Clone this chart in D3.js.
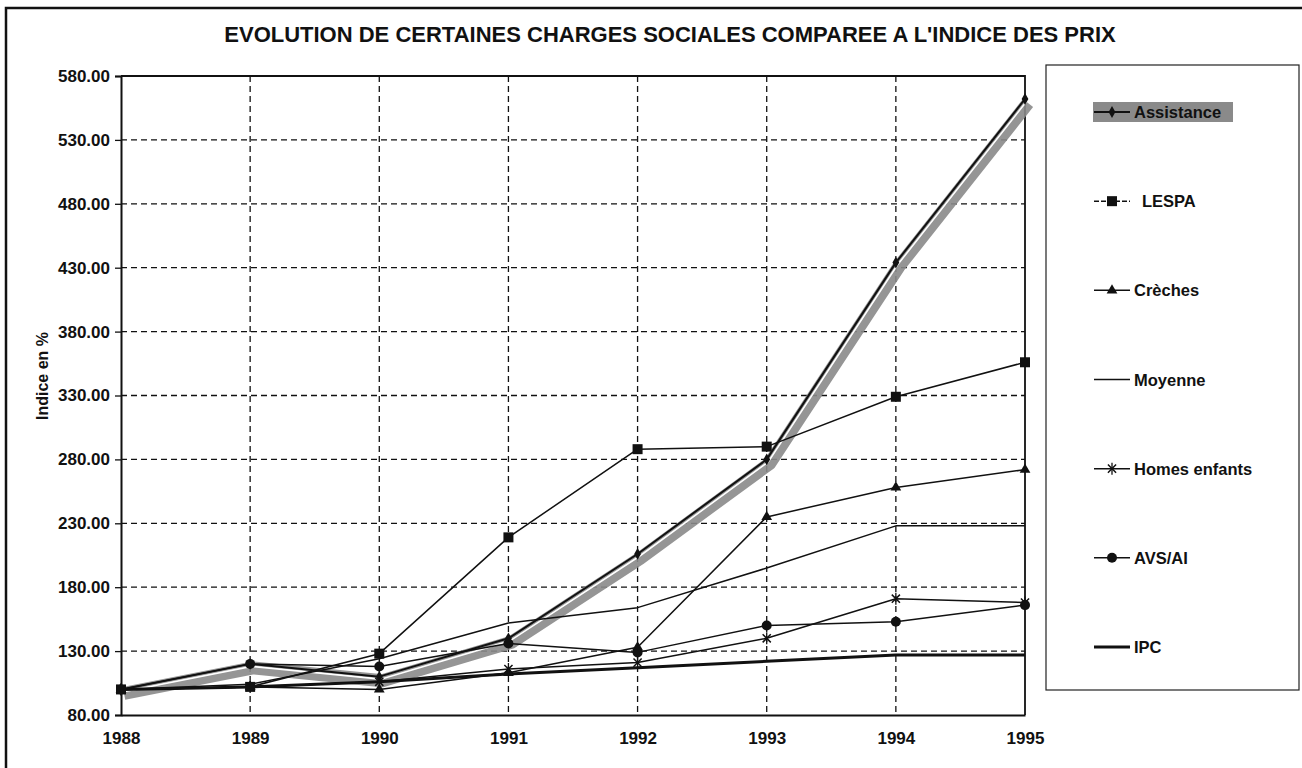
<!DOCTYPE html>
<html>
<head>
<meta charset="utf-8">
<script src="https://cdn.jsdelivr.net/npm/d3@7"></script>
<style>
  body { margin: 0; background: #fff; }
  svg { display: block; font-family: "Liberation Sans", Arial, sans-serif; }
</style>
</head>
<body>
<svg id="chart" width="1302" height="768"></svg>
<script>
const years = [1988, 1989, 1990, 1991, 1992, 1993, 1994, 1995];
const yTicks = [80, 130, 180, 230, 280, 330, 380, 430, 480, 530, 580];

// values (index, 1988 = 100)
const assistance = [100, 120, 110, 140, 206, 280, 434, 562];
const lespa = [100, 102, 128, 219, 288, 290, 329, 356];
const creches = [100, 102, 100, 113, 133, 235, 258, 272];
const moyenne = [100, 104, 124, 152, 164, 195, 228, 228];
const homesEnfants = [100, 102, 106, 116, 121, 140, 171, 168];
const avsAi = [100, 120, 118, 136, 129, 150, 153, 166];
const ipc = [100, 102, 106, 112, 117, 122, 127, 127];

const series = [
  { name: 'Assistance', values: assistance, marker: 'diamond', width: 2 },
  { name: 'LESPA', values: lespa, marker: 'square', width: 1.5 },
  { name: 'Crèches', values: creches, marker: 'triangle', width: 1.5 },
  { name: 'Moyenne', values: moyenne, marker: null, width: 1.5 },
  { name: 'Homes enfants', values: homesEnfants, marker: 'star', width: 1.5 },
  { name: 'AVS/AI', values: avsAi, marker: 'circle', width: 1.5 },
  { name: 'IPC', values: ipc, marker: null, width: 3 }
];

const svg = d3.select('#chart');
const plot = { left: 121, right: 1025, top: 76, bottom: 715 };

const x = d3.scalePoint().domain(years).range([plot.left, plot.right]);
const y = d3.scaleLinear().domain([80, 580]).range([plot.bottom, plot.top]);

// outer frame of the page
svg.append('rect')
  .attr('x', 6).attr('y', 8).attr('width', 1310).attr('height', 780)
  .attr('fill', 'none').attr('stroke', '#111').attr('stroke-width', 2.5);

// title
svg.append('text')
  .attr('x', 670).attr('y', 42)
  .attr('text-anchor', 'middle')
  .attr('font-size', 22).attr('font-weight', 'bold')
  .attr('fill', '#111')
  .text("EVOLUTION DE CERTAINES CHARGES SOCIALES COMPAREE A L'INDICE DES PRIX");

// dashed grid
const grid = svg.append('g').attr('stroke', '#111').attr('stroke-width', 1.3)
  .attr('stroke-dasharray', '6,4');
grid.selectAll('.hg').data(yTicks.slice(1, -1)).enter().append('line')
  .attr('x1', plot.left).attr('x2', plot.right)
  .attr('y1', d => y(d)).attr('y2', d => y(d));
grid.selectAll('.vg').data(years.slice(1, -1)).enter().append('line')
  .attr('x1', d => x(d)).attr('x2', d => x(d))
  .attr('y1', plot.top).attr('y2', plot.bottom);

// plot frame (top and right solid)
svg.append('path')
  .attr('d', `M${plot.left},${plot.top}H${plot.right}V${plot.bottom}`)
  .attr('fill', 'none').attr('stroke', '#111').attr('stroke-width', 1.8);

// axes
const yAxis = svg.append('g')
  .attr('transform', `translate(${plot.left},0)`)
  .call(d3.axisLeft(y).tickValues(yTicks).tickFormat(d3.format('.2f')).tickSize(6).tickPadding(5));
const xAxis = svg.append('g')
  .attr('transform', `translate(0,${plot.bottom})`)
  .call(d3.axisBottom(x).tickSize(0).tickPadding(17));
[yAxis, xAxis].forEach(a => {
  a.select('.domain').attr('stroke', '#111').attr('stroke-width', 2);
  a.selectAll('.tick line').attr('stroke', '#111').attr('stroke-width', 1.3);
  a.selectAll('.tick text').attr('fill', '#111').attr('font-size', 17)
    .attr('font-weight', 'bold').attr('font-family', '"Liberation Sans", Arial, sans-serif');
});

// y axis title
svg.append('text')
  .attr('transform', 'translate(48,376) rotate(-90)')
  .attr('text-anchor', 'middle')
  .attr('font-size', 16).attr('font-weight', 'bold').attr('fill', '#111')
  .text('Indice en %');

// marker drawing helper
function drawMarker(g, type, cx, cy) {
  if (type === 'diamond') {
    g.append('path').attr('d', d3.symbol(d3.symbolDiamond, 40)())
      .attr('transform', `translate(${cx},${cy})`).attr('fill', '#111');
  } else if (type === 'square') {
    g.append('rect').attr('x', cx - 5).attr('y', cy - 5).attr('width', 10).attr('height', 10)
      .attr('fill', '#111');
  } else if (type === 'triangle') {
    g.append('path').attr('d', d3.symbol(d3.symbolTriangle, 50)())
      .attr('transform', `translate(${cx},${cy})`).attr('fill', '#111');
  } else if (type === 'circle') {
    g.append('circle').attr('cx', cx).attr('cy', cy).attr('r', 5).attr('fill', '#111');
  } else if (type === 'star') {
    g.append('path').attr('d', d3.symbol(d3.symbolTimes, 45)())
      .attr('transform', `translate(${cx},${cy})`).attr('stroke', '#111').attr('stroke-width', 1.5);
    g.append('line').attr('x1', cx).attr('x2', cx).attr('y1', cy - 6).attr('y2', cy + 6)
      .attr('stroke', '#111').attr('stroke-width', 1.3);
  }
}

const line = d3.line().x((d, i) => x(years[i])).y(d => y(d));

// highlighter band under Assistance
const hl = svg.append('g');
hl.append('path').datum(assistance).attr('d', line)
  .attr('transform', 'translate(3,4)')
  .attr('fill', 'none').attr('stroke', '#8a8a8a').attr('stroke-width', 13)
  .attr('stroke-linejoin', 'round').attr('opacity', 0.9);
hl.append('path').datum(assistance).attr('d', line)
  .attr('transform', 'translate(1.5,2.5)')
  .attr('fill', 'none').attr('stroke', '#fff').attr('stroke-width', 1.6);

const lines = svg.append('g');
series.slice().reverse().forEach(s => {
  lines.append('path').datum(s.values).attr('d', line)
    .attr('fill', 'none').attr('stroke', '#111').attr('stroke-width', s.width)
    .attr('stroke-linejoin', 'round');
});
series.forEach(s => {
  if (!s.marker) return;
  s.values.forEach((v, i) => drawMarker(lines, s.marker, x(years[i]), y(v)));
});

// legend
const legend = svg.append('g');
legend.append('rect')
  .attr('x', 1046).attr('y', 65).attr('width', 253).attr('height', 625)
  .attr('fill', '#fff').attr('stroke', '#222').attr('stroke-width', 1.2);
const legendY = d3.scalePoint().domain(series.map(s => s.name)).range([112, 647]);
series.forEach(s => {
  const ly = legendY(s.name);
  const g = legend.append('g');
  if (s.name === 'Assistance') {
    g.append('rect').attr('x', 1093).attr('y', ly - 10).attr('width', 140).attr('height', 20)
      .attr('fill', '#8a8a8a');
  }
  g.append('line').attr('x1', 1094).attr('x2', 1130).attr('y1', ly).attr('y2', ly)
    .attr('stroke', '#111').attr('stroke-width', s.width)
    .attr('stroke-dasharray', s.name === 'LESPA' ? '5,2' : null);
  if (s.marker) drawMarker(g, s.marker, 1112, ly);
  g.append('text')
    .attr('x', s.name === 'LESPA' ? 1142 : 1134).attr('y', ly + 6)
    .attr('font-size', 16.5).attr('font-weight', 'bold')
    .attr('fill', '#111')
    .text(s.name);
});
</script>
</body>
</html>
